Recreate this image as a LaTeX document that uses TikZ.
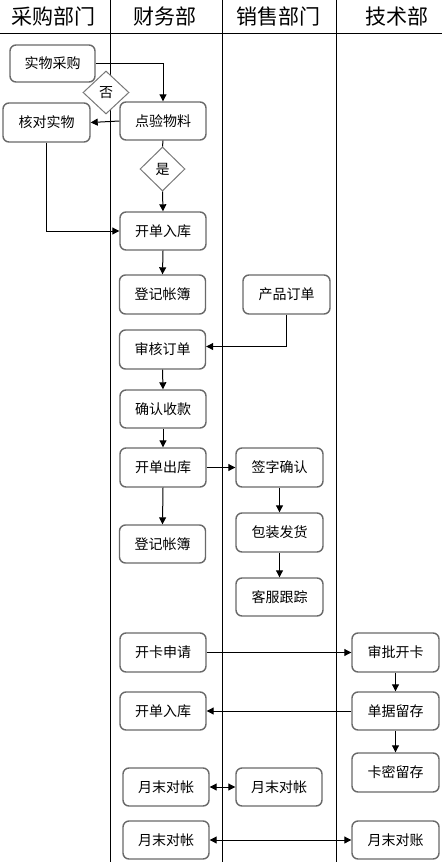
\documentclass[tikz,border=0pt]{standalone}
\usepackage{fontspec}
\setmainfont{Noto Sans CJK SC}
\usetikzlibrary{arrows.meta,shapes.geometric}
\definecolor{boxgray}{RGB}{105,105,105}
\definecolor{diagray}{RGB}{120,120,120}
\tikzset{
  box/.style={draw=boxgray, line width=1.4pt, rounded corners=6pt, fill=white,
    minimum width=86pt, minimum height=38pt, inner sep=0pt, font=\fontsize{14pt}{16pt}\selectfont},
  dia/.style={draw=diagray, line width=1pt, diamond, fill=white, inner sep=0pt,
    minimum width=45pt, minimum height=44pt, font=\fontsize{14pt}{16pt}\selectfont},
  head/.style={font=\fontsize{21pt}{24pt}\selectfont, inner sep=0pt},
  lane/.style={line width=1pt, draw=black},
  arr/.style={line width=1pt, -{Triangle[length=7pt,width=7pt]}},
  darr/.style={line width=1pt, {Triangle[length=7pt,width=7pt]}-{Triangle[length=7pt,width=7pt]}},
  ln/.style={line width=1pt}
}
\begin{document}
\begin{tikzpicture}[x=1pt,y=-1pt]
\useasboundingbox (0,0) rectangle (442,862);
% lanes
\coordinate (h0) at (0,33);
\coordinate (h1) at (442,33);
\draw[lane] (h0) -- (h1);
\coordinate (l1t) at (110,0); \coordinate (l1b) at (110,862);
\coordinate (l2t) at (222,0); \coordinate (l2b) at (222,862);
\coordinate (l3t) at (336,0); \coordinate (l3b) at (336,862);
\draw[lane] (l1t) -- (l1b);
\draw[lane] (l2t) -- (l2b);
\draw[lane] (l3t) -- (l3b);
\node[head] (t1) at (54,16) {采购部门};
\node[head] (t2) at (165,16) {财务部};
\node[head] (t3) at (278,16) {销售部门};
\node[head] (t4) at (397,16) {技术部};
% nodes
\node[box, minimum width=85pt, minimum height=37pt] (cg) at (52.5,63.5) {实物采购};
\node[dia, minimum width=46pt, minimum height=43pt] (no) at (106,92.5) {否};
\node[box, minimum width=87pt, minimum height=39pt] (hd) at (46.5,122.5) {核对实物};
\node[box] (dy) at (163,121) {点验物料};
\node[dia] (yes) at (162.5,169) {是};
\node[box] (rk1) at (163,231) {开单入库};
\node[box, minimum height=39pt] (dj1) at (162.5,294.5) {登记帐簿};
\node[box, minimum width=87pt, minimum height=39pt] (cp) at (286.5,294.5) {产品订单};
\node[box, minimum height=39pt] (sh) at (162.5,349.5) {审核订单};
\node[box] (qr) at (163,409) {确认收款};
\node[box, minimum height=39pt] (ck) at (163,467.5) {开单出库};
\node[box, minimum width=87pt, minimum height=39pt] (qz) at (279.5,467.5) {签字确认};
\node[box] (dj2) at (162.5,544) {登记帐簿};
\node[box, minimum width=87pt, minimum height=39pt] (bz) at (279.5,532.5) {包装发货};
\node[box, minimum width=87pt] (kf) at (279.5,597) {客服跟踪};
\node[box, minimum height=39pt] (ks) at (163,652.5) {开卡申请};
\node[box, minimum width=87pt, minimum height=39pt] (sp) at (395.5,652.5) {审批开卡};
\node[box] (rk2) at (163,711) {开单入库};
\node[box, minimum width=87pt] (djl) at (395.5,711) {单据留存};
\node[box, minimum width=87pt, minimum height=39pt] (km) at (395.5,772.5) {卡密留存};
\node[box] (yd1) at (166,787) {月末对帐};
\node[box] (yd2) at (279,787) {月末对帐};
\node[box] (yd3) at (166,840) {月末对帐};
\node[box, minimum width=87pt] (yd4) at (395.5,840) {月末对账};
% connectors
\draw[arr] (cg.east) -| (dy.north);
\draw[arr] (dy.west) -- (hd.east);
\draw[ln] (dy.south) -- (yes.north);
\draw[arr] (yes.south) -- (rk1.north);
\draw[arr] (hd.south) |- (rk1.west);
\draw[arr] (rk1.south) -- (dj1.north);
\draw[arr] (cp.south) |- ([yshift=3pt]sh.east);
\draw[arr] (sh.south) -- (qr.north);
\draw[arr] (qr.south) -- (ck.north);
\draw[arr] (ck.east) -- (qz.west);
\draw[arr] (ck.south) -- (dj2.north);
\draw[arr] (qz.south) -- (bz.north);
\draw[arr] (bz.south) -- (kf.north);
\draw[arr] (ks.east) -- (sp.west);
\draw[arr] (sp.south) -- (djl.north);
\draw[arr] (djl.south) -- (km.north);
\draw[arr] (djl.west) -- (rk2.east);
\draw[darr] (yd1.east) -- (yd2.west);
\draw[darr] (yd3.east) -- (yd4.west);
\end{tikzpicture}
\end{document}
